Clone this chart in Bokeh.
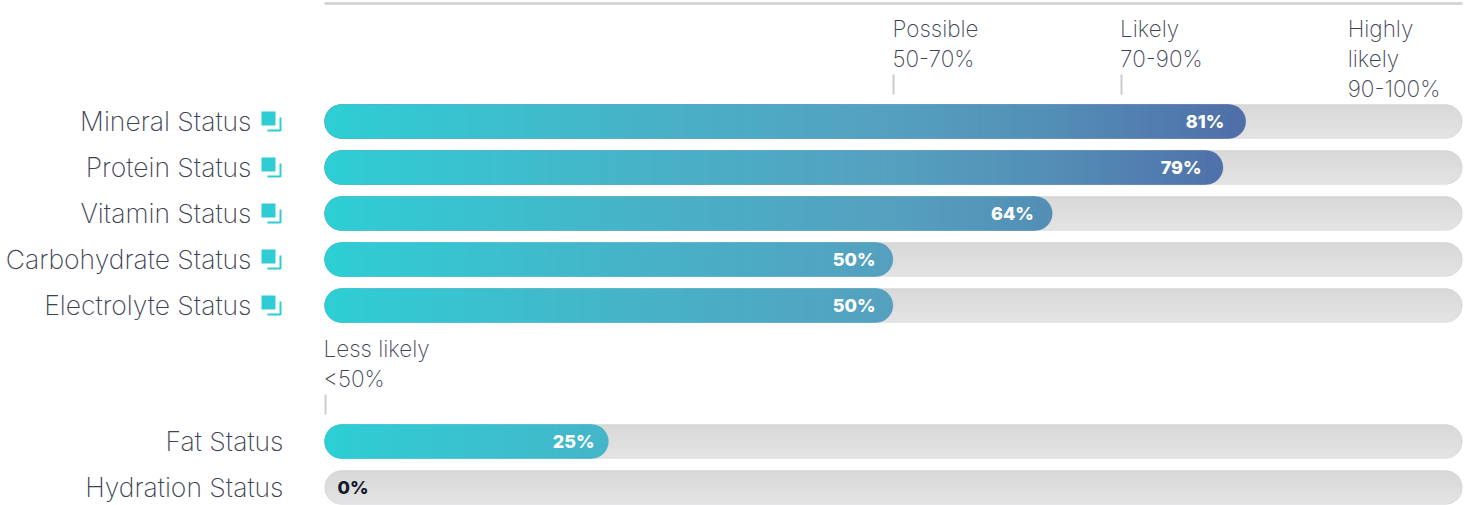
import math
from bokeh.plotting import figure
from bokeh.models import ColumnDataSource, Range1d
from bokeh.core.properties import value
from bokeh.embed import file_html
from bokeh.resources import INLINE

categories = ["Mineral Status", "Protein Status", "Vitamin Status", "Carbohydrate Status",
              "Electrolyte Status", "Fat Status", "Hydration Status"]
values = [81, 79, 64, 50, 50, 25, 0]
has_icon = [True, True, True, True, True, False, False]
pct_labels = ["81%", "79%", "64%", "50%", "50%", "25%", "0%"]
threshold_labels = [["Less likely", "<50%"], ["Possible", "50-70%"], ["Likely", "70-90%"], ["Highly", "likely", "90-100%"]]
threshold_values = [0, 50, 70, 90]

W, H = 1468, 505
X0, PXU = 324.0, 11.38          # page x of 0 %, pixels per percent
row_y = [121, 167, 213, 259, 305, 441, 487]  # page y of rows
label_gap = [22, 22, 19, 18, 18, 14.5, 0]    # gap from label's right edge to bar end (px)
BAR_R = 17

def dx(px):
    return (px - X0) / PXU

p = figure(width=W, height=H, output_backend="svg", toolbar_location=None,
           x_range=Range1d(dx(0), dx(W)), y_range=Range1d(H, 0),
           min_border=0, outline_line_color=None, margin=(0, 0, 0, 0))
p.axis.visible = False
p.grid.visible = False
p.background_fill_color = None
p.border_fill_color = None

FONT = value("Inter ExtraLight")
TXT = "#3c4252"

def mix(c0, c1, t):
    return tuple(a + (b - a) * t for a, b in zip(c0, c1))

def hexc(c):
    return "#%02x%02x%02x" % tuple(round(a) for a in c)

# top rule
p.segment(x0=[0], x1=[100], y0=[3], y1=[3], line_color="#cfcfcf", line_width=2.5)

# tracks
TOP, BOT = (0xd6, 0xd6, 0xd6), (0xe5, 0xe5, 0xe5)
for y in row_y:
    p.hbar(y=[y], left=[dx(X0 + 0.5)], right=[dx(X0 + 100 * PXU - 0.5)], height=[2 * BAR_R - 1], fill_color="#dedede",
           line_color="#cfd0dc", line_width=1, border_radius=BAR_R - 1)
    n = 34
    l, r, t, b, c = [], [], [], [], []
    for k in range(n):
        yy = -BAR_R + k
        mid = yy + 0.5
        inset = BAR_R - math.sqrt(max(BAR_R ** 2 - mid ** 2, 0)) + 0.8
        l.append(dx(X0 + inset)); r.append(dx(X0 + 100 * PXU - inset))
        t.append(y + yy); b.append(y + yy + 1.02)
        c.append(hexc(mix(TOP, BOT, k / (n - 1))))
    p.quad(left=l, right=r, top=t, bottom=b, fill_color=c, line_color=None)

# value bars with horizontal gradient
grad_pos = [0, 25, 50, 64, 81]
grad_col = [(0x2e, 0xce, 0xd5), (0x45, 0xb5, 0xc9), (0x55, 0xa0, 0xbf), (0x53, 0x8e, 0xb6), (0x50, 0x6e, 0xa8)]

def grad(x):
    for i in range(len(grad_pos) - 1):
        if x <= grad_pos[i + 1]:
            return mix(grad_col[i], grad_col[i + 1], (x - grad_pos[i]) / (grad_pos[i + 1] - grad_pos[i]))
    return grad_col[-1]

for v, y in zip(values, row_y):
    if v <= 0:
        continue
    end_col = hexc(grad(v))
    p.hbar(y=[y], left=[0], right=[v - 0.5 / PXU], height=[2 * BAR_R], fill_color=end_col,
           line_color=end_col, line_alpha=0.25, line_width=1, border_radius=BAR_R)
    p.hbar(y=[y], left=[0], right=[dx(X0 + 3 * BAR_R)], height=[2 * BAR_R], fill_color=hexc(grad_col[0]),
           line_color=None, border_radius=BAR_R)
    a, e = dx(X0 + BAR_R), v - BAR_R / PXU
    n = int((e - a) / 0.3) + 1
    step = (e - a) / n
    l = [a + i * step for i in range(n)]
    r = [min(a + (i + 1) * step + 0.1, e) for i in range(n)]
    c = [hexc(grad(x + step / 2)) for x in l]
    p.quad(left=l, right=r, top=[y - BAR_R] * n, bottom=[y + BAR_R] * n, fill_color=c, line_color=None)

# value labels
src = ColumnDataSource(dict(x=[dx(X0 + v * PXU - g) for v, g in zip(values, label_gap) if v > 0],
                            y=[y for v, y in zip(values, row_y) if v > 0],
                            t=[t for v, t in zip(values, pct_labels) if v > 0]))
p.text("x", "y", text="t", source=src, text_align="right", text_baseline="middle",
       text_font=value("Inter ExtraBold"), text_font_size="18px", text_color="#ffffff")
p.text([dx(337)], [row_y[6]], text=[pct_labels[6]], text_align="left", text_baseline="middle",
       text_font=value("Inter ExtraBold"), text_font_size="18px", text_color="#121a2b")

# category labels
lx = [dx(251) if ic else dx(283) for ic in has_icon]
p.text(lx, [y - 1 for y in row_y], text=categories, text_align="right", text_baseline="middle",
       text_font=FONT, text_font_size="26.5px", text_color=TXT)

# icons
icon_rows = [y for y, ic in zip(row_y, has_icon) if ic]
TEAL = "#2fccd4"
p.quad(left=[dx(261)] * 5, right=[dx(275)] * 5, top=[y - 10 for y in icon_rows],
       bottom=[y + 4 for y in icon_rows], fill_color=TEAL, line_color=None)
p.multi_line(xs=[[dx(267), dx(280), dx(280)] for _ in icon_rows],
             ys=[[y + 9, y + 9, y - 4] for y in icon_rows], line_color=TEAL, line_width=2)

# threshold ticks and labels
tick_px = [325, 893, 1121]
tick_spans = [(394, 414), (74, 94), (74, 94)]
for tx, (a, b) in zip(tick_px, tick_spans):
    p.segment(x0=[dx(tx)], x1=[dx(tx)], y0=[a], y1=[b], line_color="#cccccc", line_width=2)
line_tops = [348, 28, 28, 28]
for tv, lines, top in zip(threshold_values, threshold_labels, line_tops):
    tx = tv - 1 / PXU
    p.text([tx] * len(lines), [top + 30 * i for i in range(len(lines))], text=lines,
           text_align="left", text_baseline="middle", text_font=FONT,
           text_font_size="22.5px", text_color=TXT)

open("out.html", "w").write(file_html(p, INLINE))
